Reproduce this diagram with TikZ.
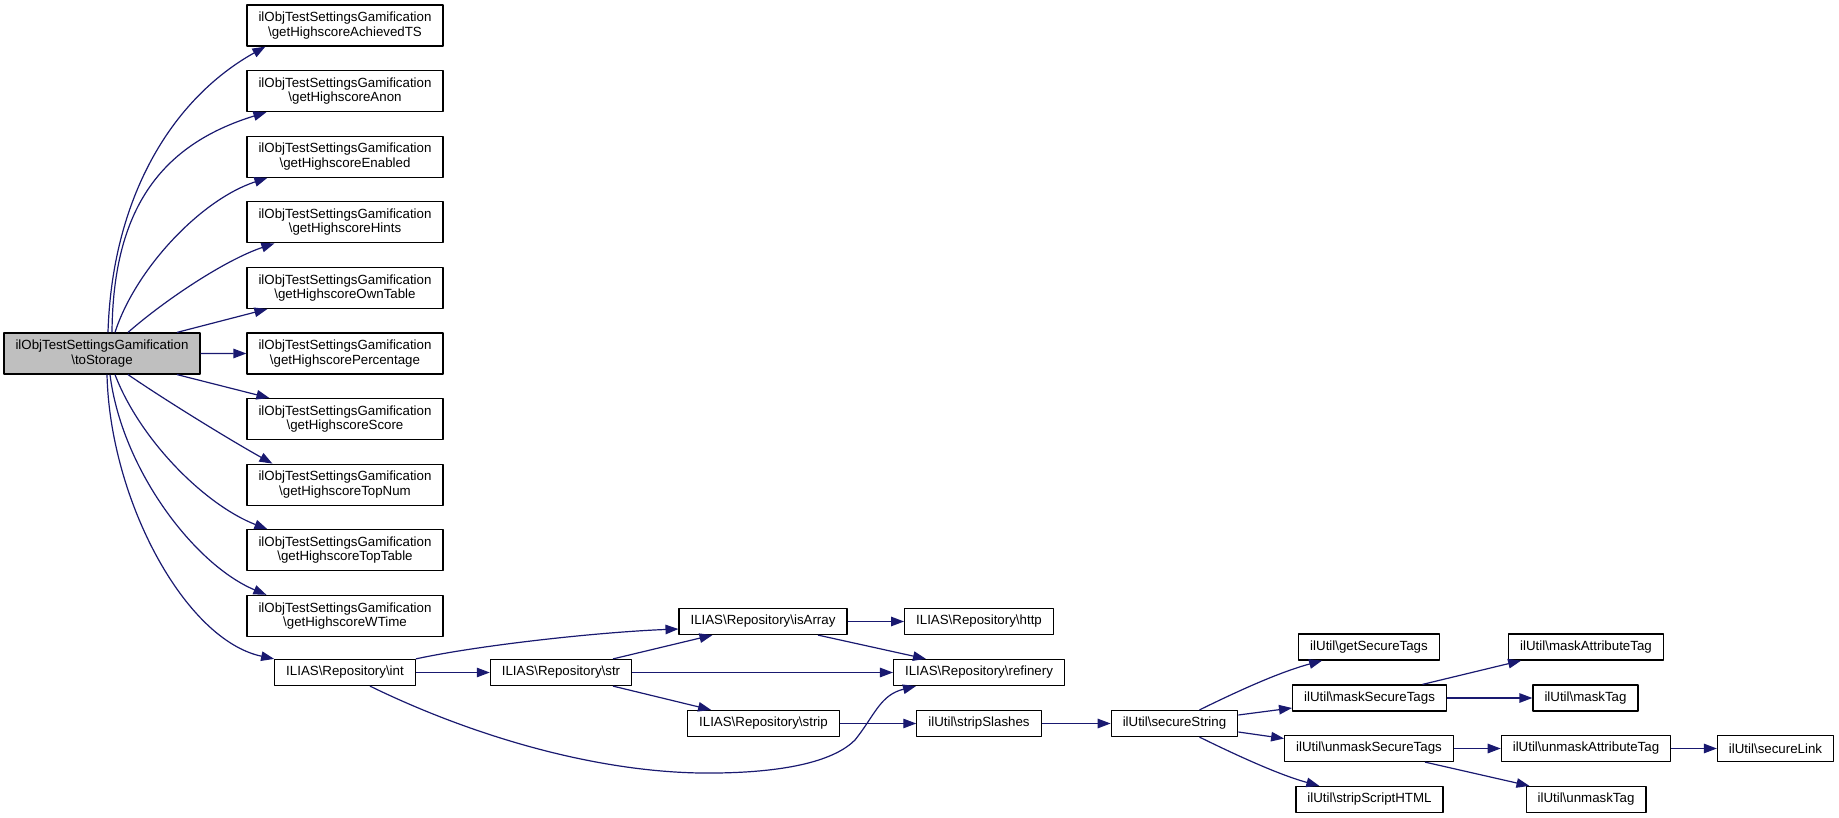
\documentclass[tikz,border=0pt]{standalone}
\usepackage{fontspec}
\setmainfont{Liberation Sans}
\usepackage{xcolor}
\usetikzlibrary{arrows.meta}
\definecolor{EdgeCol}{RGB}{25,25,112}
\definecolor{MainFill}{RGB}{191,191,191}
\newcommand{\bs}{\textbackslash}

\begin{document}
\begin{tikzpicture}[
  x=1pt, y=-1pt,
  >={Triangle[length=13pt,width=9.5pt]},
  line join=round,
  every node/.style={font=\fontsize{13.3}{14.5}\selectfont},
  fn/.style={draw=black, line width=1.2pt, fill=white, minimum height=26pt,
    inner xsep=11.5pt, inner ysep=2pt, align=center},
  fntwo/.style={fn, minimum height=41pt},
  call/.style={->, draw=EdgeCol, line width=1.2pt}
]
  \useasboundingbox (0,0) rectangle (1839,818);

  % caller
  \node[fntwo, fill=MainFill] (main) at (102,353.5)
    {ilObjTestSettingsGamification\\\bs toStorage};

  % getters of the settings object
  \foreach \nm/\lbl [count=\i from 0] in {achv/AchievedTS, anon/Anon,
      enab/Enabled, hints/Hints, own/OwnTable, perc/Percentage,
      score/Score, topnum/TopNum, toptab/TopTable, wtime/WTime}{
    \node[fntwo] (\nm) at (345,{25.5+65.6*\i})
      {ilObjTestSettingsGamification\\\bs getHighscore\lbl};
  }

  % repository and util functions
  \node[fn] (repoInt)   at (345,672.5)   {ILIAS\bs Repository\bs int};
  \node[fn] (repoStr)   at (561,672.5)   {ILIAS\bs Repository\bs str};
  \node[fn] (repoArr)   at (763,621.5)   {ILIAS\bs Repository\bs isArray};
  \node[fn] (repoHttp)  at (979,621.5)   {ILIAS\bs Repository\bs http};
  \node[fn] (repoRef)   at (979,672.5)   {ILIAS\bs Repository\bs refinery};
  \node[fn] (repoStrip) at (763.5,723.5) {ILIAS\bs Repository\bs strip};
  \node[fn] (slashes)   at (979,723.5)   {ilUtil\bs stripSlashes};
  \node[fn] (secStr)    at (1174.5,723.5) {ilUtil\bs secureString};
  \node[fn] (getSec)    at (1369,647)    {ilUtil\bs getSecureTags};
  \node[fn] (maskSec)   at (1369.5,698)  {ilUtil\bs maskSecureTags};
  \node[fn] (unmaskSec) at (1369,748.5)  {ilUtil\bs unmaskSecureTags};
  \node[fn] (stripHtml) at (1369.5,799.5) {ilUtil\bs stripScriptHTML};
  \node[fn] (maskAttr)  at (1586,647)    {ilUtil\bs maskAttributeTag};
  \node[fn] (maskTag)   at (1585.5,698)  {ilUtil\bs maskTag};
  \node[fn] (unmaskAttr) at (1586,748.5) {ilUtil\bs unmaskAttributeTag};
  \node[fn] (secLink)   at (1775.5,748.5) {ilUtil\bs secureLink};
  \node[fn] (unmaskTag) at (1586,799.5)  {ilUtil\bs unmaskTag};

  % calls from toStorage
  \draw[call] ([xshift=6pt]main.north) .. controls (112,200) and (170,100) .. ([xshift=19pt]achv.south west);
  \draw[call] ([xshift=10pt]main.north) .. controls (113,210) and (160,145) .. ([xshift=20pt]anon.south west);
  \draw[call] ([xshift=13pt]main.north) .. controls (135,270) and (200,200) .. ([xshift=21pt]enab.south west);
  \draw[call] ([xshift=26pt]main.north) .. controls (165,300) and (225,260) .. ([xshift=28pt]hints.south west);
  \draw[call] ([xshift=75pt]main.north) -- ([xshift=21pt]own.south west);
  \draw[call] (main.east) -- (perc.west);
  \draw[call] ([xshift=75pt]main.south) -- ([xshift=23pt]score.north west);
  \draw[call] ([xshift=26pt]main.south) .. controls (165,400) and (230,440) .. ([xshift=26pt]topnum.north west);
  \draw[call] ([xshift=13pt]main.south) .. controls (140,440) and (205,505) .. ([xshift=21pt]toptab.north west);
  \draw[call] ([xshift=8pt]main.south) .. controls (122,470) and (195,565) .. ([xshift=20pt]wtime.north west);
  \draw[call] ([xshift=5pt]main.south) .. controls (110,500) and (185,640) .. (repoInt.north west);

  % repository calls
  \draw[call] (repoInt.north east) .. controls (480,645) and (600,632) .. ([yshift=-7.5pt]repoArr.west);
  \draw[call] (repoInt.east) -- (repoStr.west);
  \draw[call] ([xshift=25pt]repoInt.south) .. controls (470,735) and (600,775) .. (717,773)
    .. controls (790,772) and (835,760) .. (855,740)
    .. controls (875,715) and (880,695) .. ([xshift=23pt]repoRef.south west);
  \draw[call] ([xshift=52pt]repoStr.north) -- ([xshift=34pt]repoArr.south west);
  \draw[call] (repoStr.east) -- (repoRef.west);
  \draw[call] ([xshift=52pt]repoStr.south) -- ([xshift=24pt]repoStrip.north west);
  \draw[call] (repoArr.east) -- (repoHttp.west);
  \draw[call] ([xshift=55pt]repoArr.south) -- ([xshift=33pt]repoRef.north west);
  \draw[call] (repoStrip.east) -- (slashes.west);

  % util calls
  \draw[call] (slashes.east) -- (secStr.west);
  \draw[call] ([xshift=25pt]secStr.north) .. controls (1240,690) and (1280,672) .. ([xshift=24pt]getSec.south west);
  \draw[call] ([yshift=8.5pt]secStr.east) -- ([yshift=-10pt]maskSec.west);
  \draw[call] ([yshift=-8.5pt]secStr.east) -- ([yshift=10pt]unmaskSec.west);
  \draw[call] ([xshift=25pt]secStr.south) .. controls (1240,757) and (1280,775) .. ([xshift=24pt]stripHtml.north west);
  \draw[call] ([xshift=53pt]maskSec.north) -- ([xshift=13pt]maskAttr.south west);
  \draw[call] (maskSec.east) -- (maskTag.west);
  \draw[call] (unmaskSec.east) -- (unmaskAttr.west);
  \draw[call] ([xshift=56pt]unmaskSec.south) -- ([xshift=4pt]unmaskTag.north west);
  \draw[call] (unmaskAttr.east) -- (secLink.west);
\end{tikzpicture}
\end{document}
